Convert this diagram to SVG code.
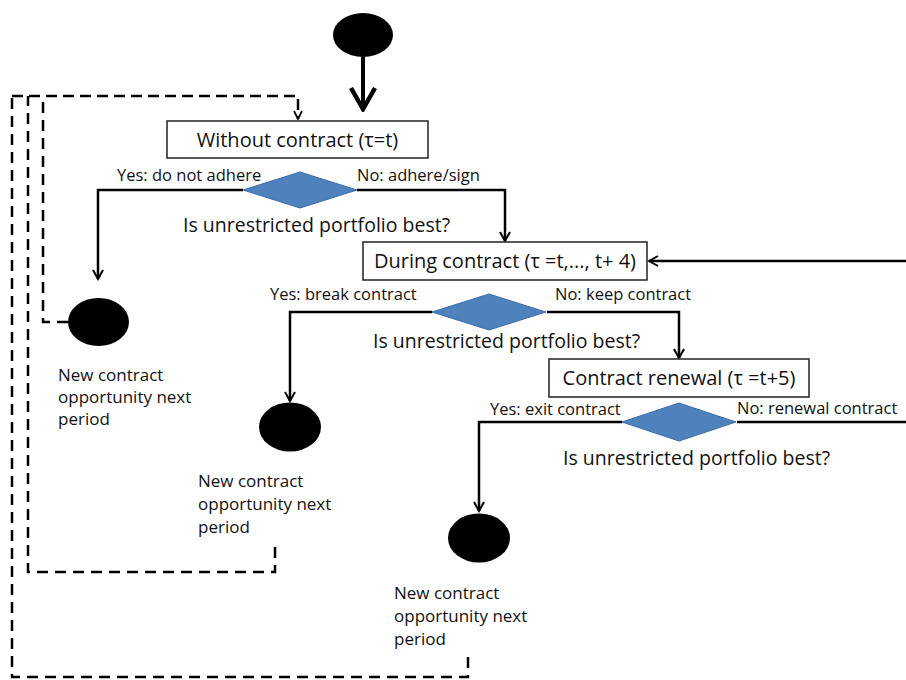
<svg xmlns="http://www.w3.org/2000/svg" width="906" height="680" viewBox="0 0 906 680">
<style>
text{font-family:"Open Sans","Liberation Sans",sans-serif;fill:#111}
.box{fill:#fff;stroke:#222;stroke-width:1.5}
.bt{font-size:20px;text-anchor:middle}
.q{font-size:19.5px}
.lb{font-size:16.5px}
.nc{font-size:17px}
.dia{fill:#4F81BD;stroke:#3B6CA8;stroke-width:1}
.end{fill:#000}
.ln{fill:none;stroke:#000;stroke-width:2.5}
.dash{fill:none;stroke:#000;stroke-width:2.5;stroke-dasharray:11 7}
</style>
<defs>
<marker id="ah" viewBox="0 0 12 12" refX="10" refY="6" markerWidth="12" markerHeight="12" markerUnits="userSpaceOnUse" orient="auto">
<path d="M1,1 L10,6 L1,11" fill="none" stroke="#000" stroke-width="2"/>
</marker>
<marker id="ahb" viewBox="0 0 26 28" refX="23" refY="14" markerWidth="26" markerHeight="28" markerUnits="userSpaceOnUse" orient="auto">
<path d="M2,2 L23,14 L2,26" fill="none" stroke="#000" stroke-width="4.5"/>
</marker>
<marker id="ahd" viewBox="0 0 10 10" refX="9" refY="5" markerWidth="10" markerHeight="10" markerUnits="userSpaceOnUse" orient="auto">
<path d="M1,1 L9,5 L1,9" fill="none" stroke="#000" stroke-width="1.8"/>
</marker>
</defs>

<g id="connectors">
<path class="ln" d="M363,57 V109" style="stroke-width:4" marker-end="url(#ahb)"/>
<path class="ln" d="M243,190 H98 V279" marker-end="url(#ah)"/>
<path class="ln" d="M357,190 H505 V241" marker-end="url(#ah)"/>
<path class="ln" d="M432,312 H290 V401" marker-end="url(#ah)"/>
<path class="ln" d="M547,312 H679 V358" marker-end="url(#ah)"/>
<path class="ln" d="M622,422 H479 V511" marker-end="url(#ah)"/>
<path class="ln" d="M737,422 H906"/>
<path class="ln" d="M906,261 H649" marker-end="url(#ah)"/>
<path class="dash" d="M68,322 H43 V96"/>
<path class="dash" d="M275,547 V572 H28 V96"/>
<path class="dash" d="M468,657 V677 H12 V96"/>
<path class="dash" d="M12,96 H298 V119" style="stroke-dasharray:11 6" marker-end="url(#ahd)"/>
</g>

<g id="start"><ellipse class="end" cx="363" cy="35" rx="30" ry="22"/></g>

<g id="without-contract">
<rect class="box" x="167" y="121" width="261" height="37"/>
<text class="bt" x="297.5" y="147">Without contract (τ=t)</text>
</g>

<g id="decision1">
<polygon class="dia" points="243,190 300,172 357,190 300,208"/>
<text class="q" x="183" y="232">Is unrestricted portfolio best?</text>
<text class="lb" x="117" y="181">Yes: do not adhere</text>
<text class="lb" x="357" y="181">No: adhere/sign</text>
</g>

<g id="end1">
<ellipse class="end" cx="98.5" cy="322" rx="30.5" ry="24"/>
<text class="nc" x="58" y="381">New contract</text>
<text class="nc" x="58" y="403">opportunity next</text>
<text class="nc" x="58" y="425">period</text>
</g>

<g id="during-contract">
<rect class="box" x="363" y="242" width="284" height="38"/>
<text class="bt" x="505" y="268">During contract (τ =t,..., t+ 4)</text>
</g>

<g id="decision2">
<polygon class="dia" points="432,312 489,294 546,312 489,330"/>
<text class="q" x="373" y="348">Is unrestricted portfolio best?</text>
<text class="lb" x="270" y="300">Yes: break contract</text>
<text class="lb" x="555" y="300">No: keep contract</text>
</g>

<g id="end2">
<ellipse class="end" cx="290" cy="427" rx="31" ry="24.5"/>
<text class="nc" x="198" y="487">New contract</text>
<text class="nc" x="198" y="510">opportunity next</text>
<text class="nc" x="198" y="533">period</text>
</g>

<g id="contract-renewal">
<rect class="box" x="549" y="359" width="260" height="38"/>
<text class="bt" x="679" y="385">Contract renewal (τ =t+5)</text>
</g>

<g id="decision3">
<polygon class="dia" points="622,422 679,403 736,422 679,441"/>
<text class="q" x="563" y="465">Is unrestricted portfolio best?</text>
<text class="lb" x="490" y="415">Yes: exit contract</text>
<text class="lb" x="737" y="414">No: renewal contract</text>
</g>

<g id="end3">
<ellipse class="end" cx="479" cy="538" rx="31" ry="24.5"/>
<text class="nc" x="394" y="599">New contract</text>
<text class="nc" x="394" y="622">opportunity next</text>
<text class="nc" x="394" y="645">period</text>
</g>
</svg>
